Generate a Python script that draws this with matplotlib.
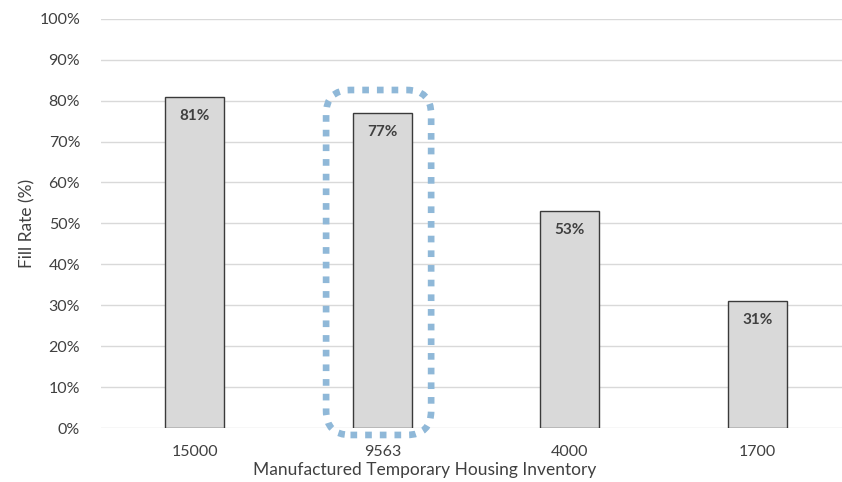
import numpy as np
import matplotlib
matplotlib.use("Agg")
import matplotlib.pyplot as plt
from matplotlib.patches import FancyBboxPatch
from matplotlib.ticker import PercentFormatter

# inventory levels and resulting fill rates
inventory = ["15000", "9563", "4000", "1700"]
fill_rate = [81, 77, 53, 31]
highlight = 1  # index of the current-inventory bar

plt.rcParams["font.family"] = ["Lato", "DejaVu Sans"]

fig = plt.figure(figsize=(8.42, 4.82), dpi=100)
ax = fig.add_axes([0.12, 0.112, 0.891, 0.849])

x = np.arange(len(inventory))
ax.bar(x, fill_rate, width=0.315, color="#d9d9d9", edgecolor="#3a3a3a",
       linewidth=1.0, zorder=3)
for xi, v in zip(x, fill_rate):
    ax.text(xi, v - 3.0, f"{v}%", ha="center", va="top", fontsize=11,
            fontweight="bold", color="#404040", zorder=4)

ax.set_xlim(-0.5, len(inventory) - 0.5)
ax.set_ylim(0, 100)
ax.set_yticks(np.arange(0, 101, 10))
ax.yaxis.set_major_formatter(PercentFormatter(decimals=0))
ax.set_xticks(x)
ax.set_xticklabels(inventory)
ax.tick_params(length=0, labelsize=11.5, colors="#404040", pad=12)
ax.tick_params(axis="y", pad=15)
ax.grid(axis="y", color="#d9d9d9", linewidth=1.0, zorder=0)
for s in ax.spines.values():
    s.set_visible(False)

ax.set_ylabel("Fill Rate (%)", fontsize=12.5, color="#404040", labelpad=3)
ax.set_xlabel("Manufactured Temporary Housing Inventory", fontsize=12.5,
              color="#404040")
ax.xaxis.set_label_coords(0.431, -0.083)

# dotted rounded frame around the highlighted bar
x0, x1 = highlight - 0.30, highlight + 0.26
y0, y1 = -1.7, 82.6
aspect = (100 / 409) / (1 / 187.5)
frame = FancyBboxPatch((x0, y0), x1 - x0, y1 - y0,
                       boxstyle="round,pad=0,rounding_size=0.13",
                       mutation_aspect=aspect, fill=False,
                       edgecolor="#8fb8d8", linewidth=4.8,
                       linestyle=(0, (1.0, 1.2)), clip_on=False, zorder=5)
frame.set_capstyle("butt")
ax.add_patch(frame)

fig.savefig("out.png", dpi=100)
